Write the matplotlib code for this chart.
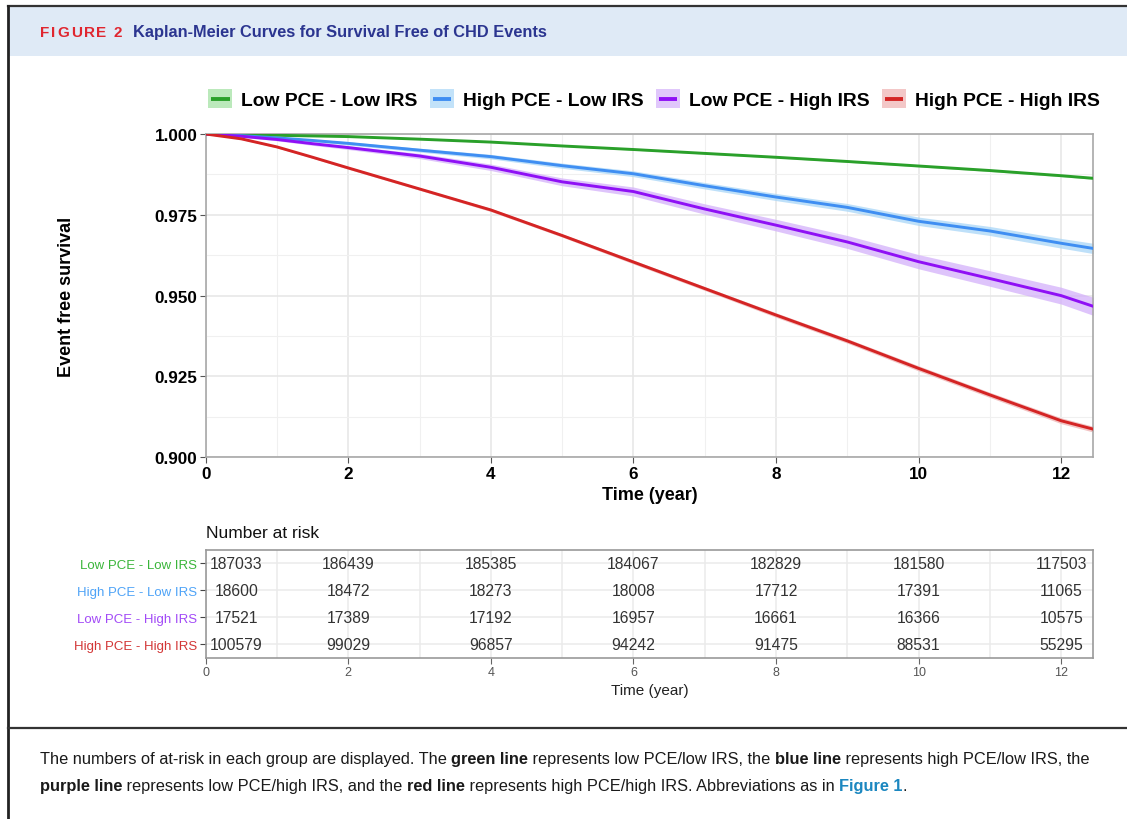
import matplotlib
matplotlib.use('Agg')
import matplotlib.pyplot as plt
from matplotlib.patches import Patch, Rectangle
from matplotlib.lines import Line2D
import numpy as np

plt.rcParams['font.family'] = ['Liberation Sans', 'DejaVu Sans']

# ---------------- data ----------------
groups = ["Low PCE - Low IRS", "High PCE - Low IRS", "Low PCE - High IRS", "High PCE - High IRS"]
time_years = [0, 0.5, 1, 1.5, 2, 3, 4, 5, 6, 7, 8, 9, 10, 11, 12, 12.45]
surv_low_low = [1.0, 0.9998, 0.9996, 0.9994, 0.9992, 0.9984, 0.9975, 0.9963, 0.9952, 0.9940, 0.9928, 0.9915, 0.9901, 0.9887, 0.9871, 0.9863]
surv_high_low = [1.0, 0.9995, 0.9988, 0.9980, 0.9971, 0.9950, 0.9930, 0.9902, 0.9877, 0.9840, 0.9805, 0.9773, 0.9730, 0.9700, 0.9662, 0.9646]
surv_low_high = [1.0, 0.9993, 0.9983, 0.9970, 0.9958, 0.9932, 0.9897, 0.9852, 0.9822, 0.9768, 0.9718, 0.9666, 0.9605, 0.9553, 0.9500, 0.9467]
surv_high_high = [1.0, 0.9985, 0.9960, 0.9928, 0.9895, 0.9830, 0.9765, 0.9686, 0.9604, 0.9522, 0.9440, 0.9360, 0.9275, 0.9193, 0.9113, 0.9087]
ci_low_low = [0, 0.00005, 0.0001, 0.0001, 0.0001, 0.0001, 0.00015, 0.00015, 0.0002, 0.0002, 0.0002, 0.00025, 0.00025, 0.0003, 0.0003, 0.0003]
ci_high_low = [0, 0.0002, 0.0003, 0.0004, 0.0005, 0.0006, 0.0007, 0.0008, 0.0009, 0.0010, 0.0011, 0.0012, 0.0013, 0.0014, 0.0015, 0.0016]
ci_low_high = [0, 0.0003, 0.0004, 0.0005, 0.0006, 0.0008, 0.0010, 0.0012, 0.0014, 0.0016, 0.0018, 0.0020, 0.0022, 0.0024, 0.0026, 0.0028]
ci_high_high = [0, 0.0002, 0.0003, 0.0003, 0.0004, 0.0004, 0.0005, 0.0005, 0.0006, 0.0006, 0.0007, 0.0007, 0.0008, 0.0008, 0.0009, 0.0009]

risk_times = [0, 2, 4, 6, 8, 10, 12]
risk_low_low = [187033, 186439, 185385, 184067, 182829, 181580, 117503]
risk_high_low = [18600, 18472, 18273, 18008, 17712, 17391, 11065]
risk_low_high = [17521, 17389, 17192, 16957, 16661, 16366, 10575]
risk_high_high = [100579, 99029, 96857, 94242, 91475, 88531, 55295]

line_colors = ['#2aa02a', '#3f8ef2', '#8f10f5', '#d42424']
band_colors = ['#9fe09f', '#a9d6f7', '#d4b0fa', '#eeb0b0']
label_colors = ['#3ab53a', '#4ea3f7', '#a24af7', '#d23535']

surv = [surv_low_low, surv_high_low, surv_low_high, surv_high_high]
cis = [ci_low_low, ci_high_low, ci_low_high, ci_high_high]
risks = [risk_low_low, risk_high_low, risk_low_high, risk_high_high]

# ---------------- figure ----------------
W, H = 1127, 820
fig = plt.figure(figsize=(W / 100, H / 100), dpi=100)
renderer = fig.canvas.get_renderer()

def fx(x):
    return x / W

def fy(y):
    return 1 - y / H

# header band and frame
fig.patches.append(Rectangle((fx(9), fy(57)), 1, (57 - 8) / H, transform=fig.transFigure,
                             facecolor='#dfeaf6', edgecolor='none', zorder=0))
fig.add_artist(Line2D([fx(8), 1], [fy(7), fy(7)], color='#333333', lw=1.6))
fig.add_artist(Line2D([fx(8), fx(8)], [fy(7), 0], color='#222222', lw=2))
fig.add_artist(Line2D([fx(8), 1], [fy(729), fy(729)], color='#333333', lw=1.6))

# "FIGURE 2" with letter spacing
xc = 40
for ch in "FIGURE 2":
    tobj = fig.text(fx(xc), fy(33), ch, color='#e0262f', fontsize=11, fontweight='bold',
                    va='center', ha='left')
    xc += tobj.get_window_extent(renderer=renderer).width + 1.8 if ch != ' ' else 5.5
fig.text(fx(133), fy(33), "Kaplan-Meier Curves for Survival Free of CHD Events", color='#2b3590',
         fontsize=11.8, fontweight='bold', va='center', ha='left')

# ---------------- main axes ----------------
x_max = 12.45
ax = fig.add_axes([fx(205.7), fy(458.3), (1093.3 - 205.7) / W, (458.3 - 135) / H])
t = np.array(time_years)
for s, c, lc, bc in zip(surv, cis, line_colors, band_colors):
    s = np.array(s)
    c = np.array(c)
    ax.fill_between(t, s - c, s + c, color=bc, alpha=0.75, lw=0, zorder=2)
    ax.plot(t, s, color=lc, lw=2.1, zorder=3)

ax.set_xlim(0, x_max)
ax.set_ylim(0.9, 1.0)
ax.set_xticks([0, 2, 4, 6, 8, 10, 12])
ax.set_xticks([1, 3, 5, 7, 9, 11], minor=True)
ax.set_yticks([0.9, 0.925, 0.95, 0.975, 1.0])
ax.set_yticks([0.9125, 0.9375, 0.9625, 0.9875], minor=True)
ax.set_yticklabels(["0.900", "0.925", "0.950", "0.975", "1.000"])
ax.grid(True, which='major', color='#e6e6e6', lw=1.1, zorder=0)
ax.grid(True, which='minor', color='#f0f0f0', lw=0.8, zorder=0)
ax.set_axisbelow(True)
for sp in ax.spines.values():
    sp.set_color('#a8a8a8')
    sp.set_linewidth(1.2)
ax.tick_params(which='major', length=4, color='#555555', labelsize=12.3, pad=2)
ax.tick_params(which='minor', length=0)
for lab in ax.get_xticklabels() + ax.get_yticklabels():
    lab.set_fontweight('bold')
    lab.set_color('black')
ax.set_xlabel("Time (year)", fontsize=13, fontweight='bold', labelpad=4)
ax.set_ylabel("Event free survival", fontsize=13, fontweight='bold', labelpad=57)


# legend with a key: light square with a line through it
class KeyHandler:
    def legend_artist(self, legend, orig_handle, fontsize, handlebox):
        x0, y0 = -handlebox.xdescent, -handlebox.ydescent
        w, h = handlebox.width, handlebox.height
        rect = Rectangle((x0, y0), w, h, facecolor=orig_handle.get_facecolor(), edgecolor='none',
                         transform=handlebox.get_transform())
        ln = Line2D([x0 + 0.12 * w, x0 + 0.88 * w], [y0 + h / 2, y0 + h / 2],
                    color=orig_handle.get_edgecolor(), lw=2.8, solid_capstyle='butt',
                    transform=handlebox.get_transform())
        handlebox.add_artist(rect)
        handlebox.add_artist(ln)
        return rect

handles = [Patch(facecolor=matplotlib.colors.to_rgba(bc, 0.7), edgecolor=lc)
           for lc, bc in zip(line_colors, band_colors)]
fig.legend(handles, groups, loc='center', bbox_to_anchor=(fx(654), fy(100)), ncol=4, frameon=False,
           handler_map={Patch: KeyHandler()},
           prop={'size': 13.9, 'weight': 'bold'}, handlelength=1.25, handleheight=1.15,
           handletextpad=0.45, columnspacing=0.65)

# ---------------- risk table ----------------
axr = fig.add_axes([fx(205.7), fy(659), (1093.3 - 205.7) / W, (659 - 550.7) / H])
axr.set_xlim(0, x_max)
axr.set_ylim(4.5, 0.5)
axr.set_xticks(risk_times)
axr.set_xticks([1, 3, 5, 7, 9, 11], minor=True)
axr.set_yticks([1, 2, 3, 4])
axr.set_yticklabels(groups)
for lab, col in zip(axr.get_yticklabels(), label_colors):
    lab.set_color(col)
axr.grid(True, which='major', color='#ebebeb', lw=1.1)
axr.grid(True, which='minor', axis='x', color='#ebebeb', lw=1.1)
axr.set_axisbelow(True)
for sp in axr.spines.values():
    sp.set_color('#999999')
    sp.set_linewidth(1.2)
axr.tick_params(axis='y', which='major', length=4, color='#444444', labelsize=9.5, pad=2)
axr.tick_params(axis='x', which='major', length=4, color='#666666', labelsize=9, labelcolor='#555555', pad=2)
axr.tick_params(which='minor', length=0)
axr.set_xlabel("Time (year)", fontsize=11, color='#222222', labelpad=3)
axr.set_title("Number at risk", loc='left', fontsize=12.5, color='#111111', pad=9)

for row, vals in enumerate(risks):
    for tt, v in zip(risk_times, vals):
        if tt == 0:
            axr.annotate(str(v), (tt, row + 1), xytext=(22, 0), textcoords='offset points',
                         ha='center', va='center', fontsize=11.3, color='#333333')
        else:
            axr.text(tt, row + 1, str(v), ha='center', va='center', fontsize=11.3, color='#333333')

# ---------------- caption ----------------
def line_width(parts, size):
    total = 0
    for txt, weight, color in parts:
        tobj = fig.text(0, 0, txt, fontsize=size, fontweight=weight)
        total += tobj.get_window_extent(renderer=renderer).width
        tobj.remove()
    return total

def rich_line(parts, x0, y0, size):
    x = x0
    for txt, weight, color in parts:
        tobj = fig.text(fx(x), fy(y0), txt, fontsize=size, fontweight=weight, color=color,
                        ha='left', va='center')
        x += tobj.get_window_extent(renderer=renderer).width

cap = '#1a1a1a'
line1 = [("The numbers of at-risk in each group are displayed. The ", 'normal', cap),
         ("green line", 'bold', cap),
         (" represents low PCE/low IRS, the ", 'normal', cap),
         ("blue line", 'bold', cap),
         (" represents high PCE/low IRS, the", 'normal', cap)]
line2 = [("purple line", 'bold', cap),
         (" represents low PCE/high IRS, and the ", 'normal', cap),
         ("red line", 'bold', cap),
         (" represents high PCE/high IRS. Abbreviations as in ", 'normal', cap),
         ("Figure 1", 'bold', '#1b87c0'),
         (".", 'normal', cap)]
base = 12.5
cap_size = base * (1097 - 40) / line_width(line1, base)
rich_line(line1, 40, 760, cap_size)
rich_line(line2, 40, 787, cap_size)

fig.savefig('out.png', dpi=100)
